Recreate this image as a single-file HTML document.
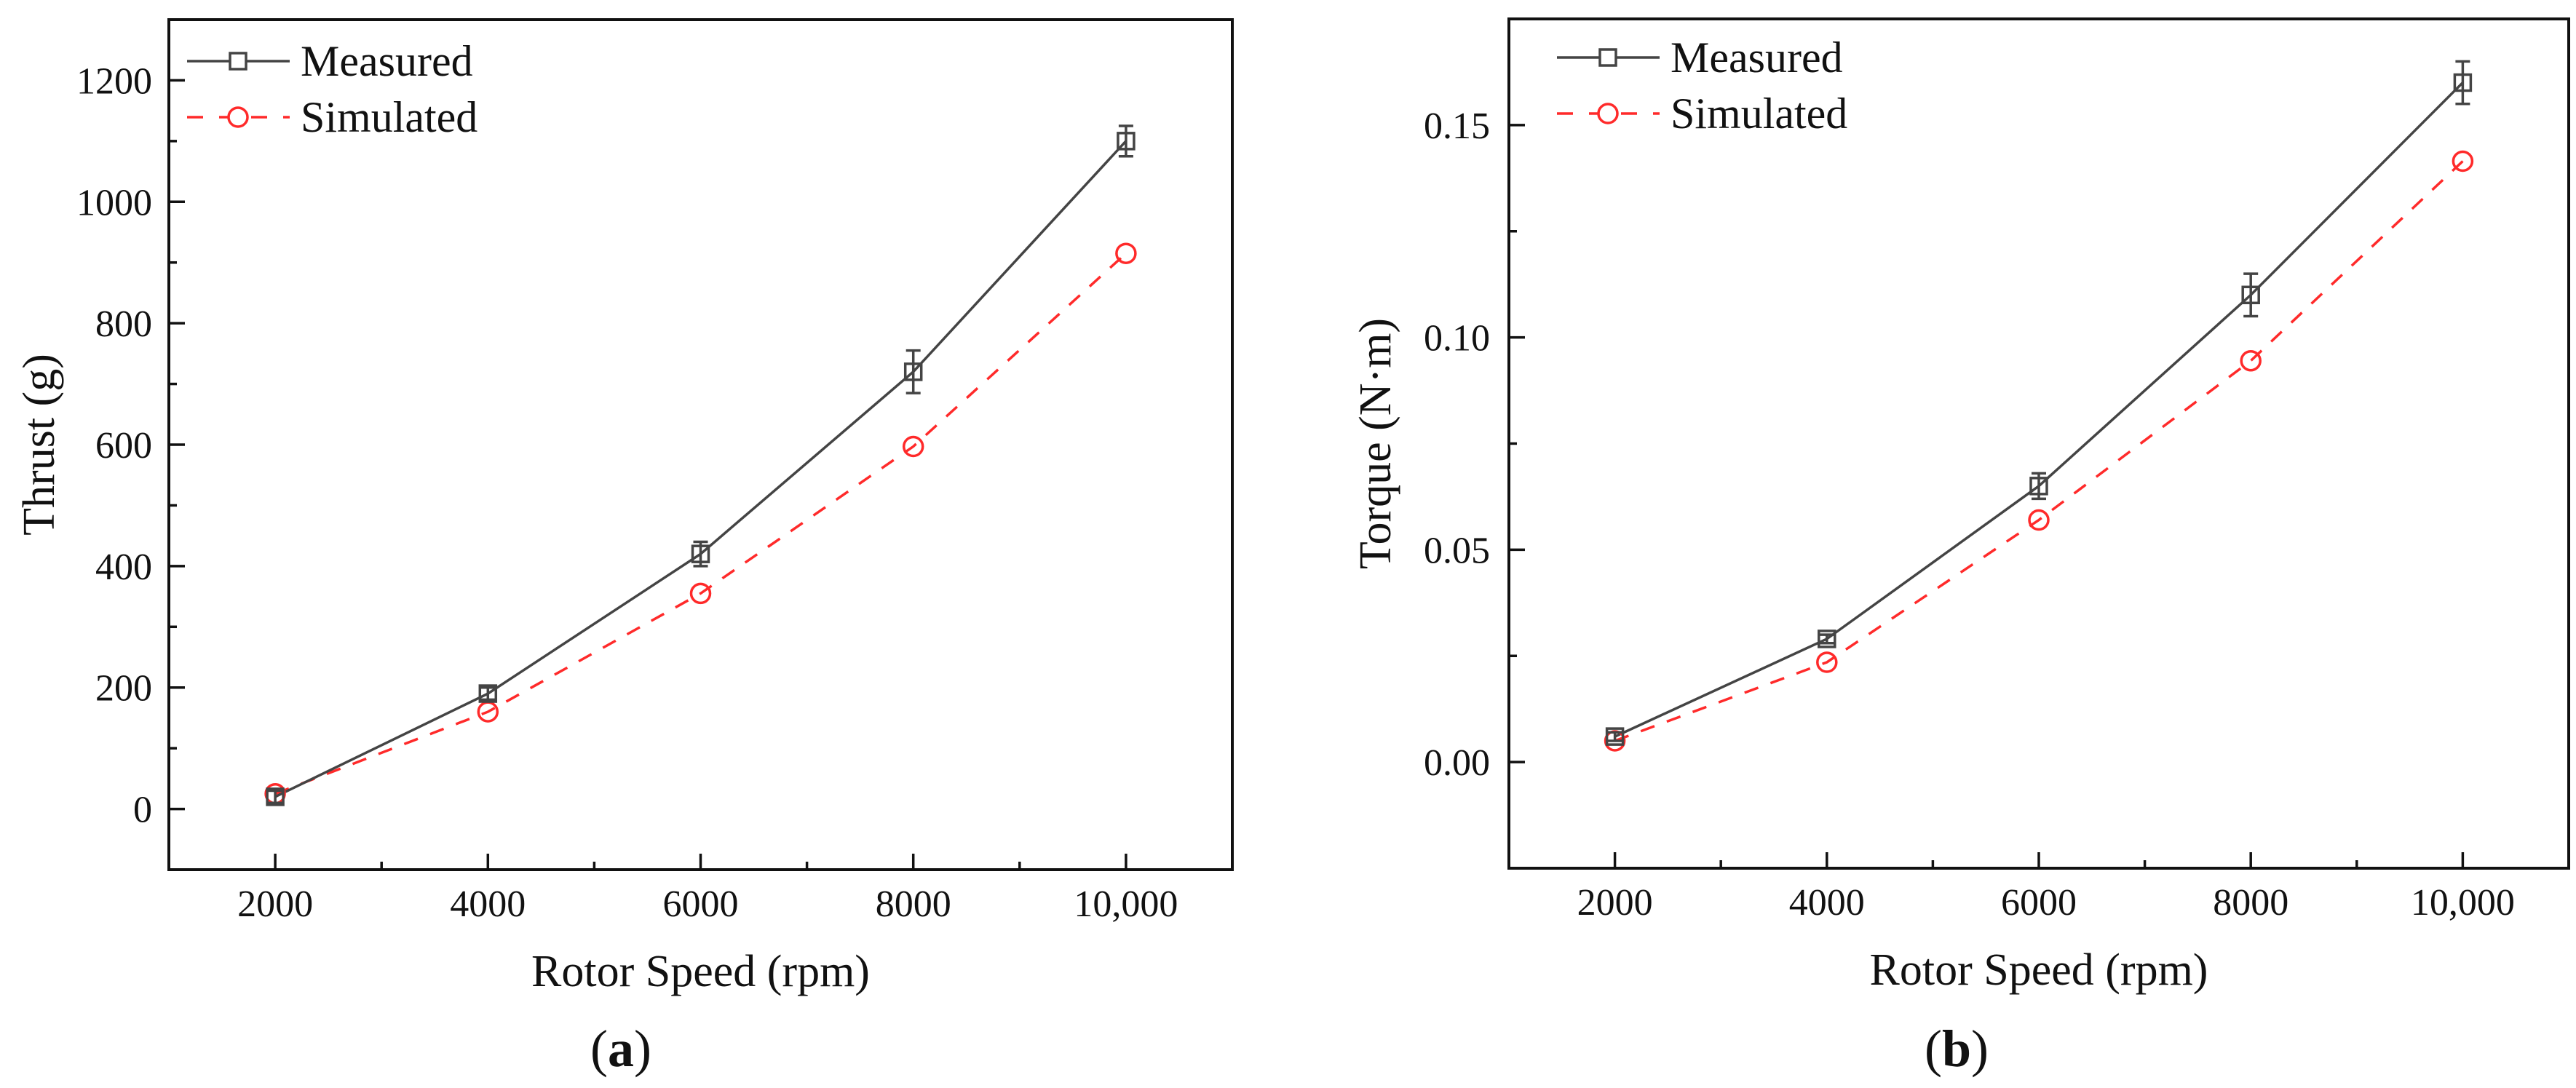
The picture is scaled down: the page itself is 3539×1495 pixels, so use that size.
<!DOCTYPE html>
<html><head><meta charset="utf-8"><style>
html,body{margin:0;padding:0;background:#fff;}
svg{display:block;}
text{font-family:"Liberation Serif",serif;fill:#111;}
</style></head><body>
<svg id="fig" width="3539" height="1495" viewBox="0 0 3539 1495" xmlns="http://www.w3.org/2000/svg"></svg>
<script>
const speeds = [2000, 4000, 6000, 8000, 10000];
const xTickLabels = ["2000", "4000", "6000", "8000", "10,000"];
const thrustMeasured = [20, 190, 420, 720, 1100];
const thrustErr = [10, 10, 20, 35, 25];
const thrustSimulated = [25, 160, 355, 597, 915];
const thrustTicks = [0, 200, 400, 600, 800, 1000, 1200];
const thrustTickLabels = ["0", "200", "400", "600", "800", "1000", "1200"];
const torqueMeasured = [0.006, 0.029, 0.065, 0.110, 0.160];
const torqueErr = [0.001, 0.001, 0.003, 0.005, 0.005];
const torqueSimulated = [0.005, 0.0235, 0.057, 0.0945, 0.1415];
const torqueTicks = [0, 0.05, 0.10, 0.15];
const torqueTickLabels = ["0.00", "0.05", "0.10", "0.15"];

const NS = "http://www.w3.org/2000/svg";
const svg = document.getElementById('fig');
function mk(tag, attrs, parent) {
  const e = document.createElementNS(NS, tag);
  for (const k in attrs) e.setAttribute(k, attrs[k]);
  (parent || svg).appendChild(e);
  return e;
}

function panel(cfg) {
  const g = mk('g', {});
  
  
  const L = cfg.left, R = cfg.right, T = cfg.top, B = cfg.bottom;
  const xs = v => L + (v - 1000) / 10000 * (R - L);
  const ys = v => B - (v - cfg.ymin) / (cfg.ymax - cfg.ymin) * (B - T);
  const frame = mk('rect', {x: L, y: T, width: R - L, height: B - T, fill: 'none', stroke: '#111', 'stroke-width': 4}, g);
  
  
  for (let v = 2000; v <= 10000; v += 1000) {
    const major = v % 2000 === 0;
    const t = mk('line', {x1: xs(v), x2: xs(v), y1: B, y2: B - (major ? 22 : 11), stroke: '#111', 'stroke-width': 3.5}, g);
    
    
  }
  speeds.forEach((v, i) => {
    const t = mk('text', {x: xs(v), y: B + 64, 'font-size': 52, 'text-anchor': 'middle'}, g);
    t.textContent = xTickLabels[i];
    
    
  });
  for (let i = 0; i < cfg.yticks.length; i++) {
    const v = cfg.yticks[i];
    const t = mk('line', {x1: L, x2: L + 22, y1: ys(v), y2: ys(v), stroke: '#111', 'stroke-width': 3.5}, g);
    
    
    const lb = mk('text', {x: cfg.ylabelRight, y: ys(v) + 18, 'font-size': 52, 'text-anchor': 'end'}, g);
    lb.textContent = cfg.ylabels[i];
    
    
    const mv = v + cfg.ystep / 2;
    if (mv < cfg.ymax) {
      const m = mk('line', {x1: L, x2: L + 11, y1: ys(mv), y2: ys(mv), stroke: '#111', 'stroke-width': 3.5}, g);
      
      
    }
  }
  const mv0 = cfg.yticks[0] - cfg.ystep / 2;
  if (mv0 > cfg.ymin) {
    const m = mk('line', {x1: L, x2: L + 11, y1: ys(mv0), y2: ys(mv0), stroke: '#111', 'stroke-width': 3.5}, g);
    
    
  }
  const sp = speeds.map((v, i) => xs(v) + ',' + ys(cfg.sim[i])).join(' ');
  const sl = mk('polyline', {points: sp, fill: 'none', stroke: '#ff2a2a', 'stroke-width': 3.5, 'stroke-dasharray': '20,18'}, g);
  
  
  const mp = speeds.map((v, i) => xs(v) + ',' + ys(cfg.meas[i])).join(' ');
  const ml = mk('polyline', {points: mp, fill: 'none', stroke: '#444', 'stroke-width': 3.5}, g);
  
  
  speeds.forEach((v, i) => {
    const x = xs(v);
    const c = mk('circle', {cx: x, cy: ys(cfg.sim[i]), r: 13, fill: 'none', stroke: '#ff2a2a', 'stroke-width': 3.5}, g);
    
    
    const hi = ys(cfg.meas[i] + cfg.err[i]), lo = ys(cfg.meas[i] - cfg.err[i]);
    const eb = mk('path', {d: `M${x},${hi}V${lo}M${x-10},${hi}H${x+10}M${x-10},${lo}H${x+10}`, stroke: '#444', 'stroke-width': 3.5, fill: 'none'}, g);
    
    
    const y = ys(cfg.meas[i]);
    const s = mk('rect', {x: x - 11, y: y - 11, width: 22, height: 22, fill: 'none', stroke: '#444', 'stroke-width': 3.5}, g);
    
    
  });
  const lg = mk('g', {}, g);
  
  
  const lx = cfg.legX, ly = cfg.legY;
  mk('line', {x1: lx, x2: lx + 141, y1: ly, y2: ly, stroke: '#444', 'stroke-width': 3.5}, lg);
  mk('rect', {x: lx + 59, y: ly - 11, width: 22, height: 22, fill: '#fff', stroke: '#444', 'stroke-width': 3.5}, lg);
  const t1 = mk('text', {x: lx + 156, y: ly + 20, 'font-size': 60}, lg);
  t1.textContent = 'Measured';
  
  
  mk('line', {x1: lx, x2: lx + 141, y1: ly + 77, y2: ly + 77, stroke: '#ff2a2a', 'stroke-width': 3.5, 'stroke-dasharray': '22,22'}, lg);
  mk('circle', {cx: lx + 70, cy: ly + 77, r: 13, fill: '#fff', stroke: '#ff2a2a', 'stroke-width': 3.5}, lg);
  const t2 = mk('text', {x: lx + 156, y: ly + 97, 'font-size': 60}, lg);
  t2.textContent = 'Simulated';
  
  
  const xt = mk('text', {x: (L + R) / 2, y: B + 160, 'font-size': 62, 'text-anchor': 'middle'}, g);
  xt.textContent = 'Rotor Speed (rpm)';
  
  
  const yt = mk('text', {x: 0, y: 0, 'font-size': 62, 'text-anchor': 'middle', transform: `translate(${cfg.ytitleX},${(T + B) / 2}) rotate(-90)`}, g);
  yt.textContent = cfg.ytitle;
  
  
  const pl = mk('text', {x: cfg.labelX, y: 1465, 'font-size': 72, 'text-anchor': 'middle'}, g);
  pl.innerHTML = '(<tspan font-weight="bold">' + cfg.letter + '</tspan>)';
  
  
}

panel({name: 'thrust-chart', left: 232, right: 1693, top: 27, bottom: 1195, ymin: -100, ymax: 1300,
  yticks: thrustTicks, ylabels: thrustTickLabels, ystep: 200, meas: thrustMeasured, err: thrustErr, sim: thrustSimulated,
  ylabelRight: 209, ytitleX: 74, ytitle: 'Thrust (g)', legX: 257, legY: 84, labelX: 853, letter: 'a'});
panel({name: 'torque-chart', left: 2073, right: 3529, top: 26, bottom: 1193, ymin: -0.025, ymax: 0.175,
  yticks: torqueTicks, ylabels: torqueTickLabels, ystep: 0.05, meas: torqueMeasured, err: torqueErr, sim: torqueSimulated,
  ylabelRight: 2047, ytitleX: 1910, ytitle: 'Torque (N·m)', legX: 2139, legY: 79, labelX: 2688, letter: 'b'});
</script>
</body></html>
